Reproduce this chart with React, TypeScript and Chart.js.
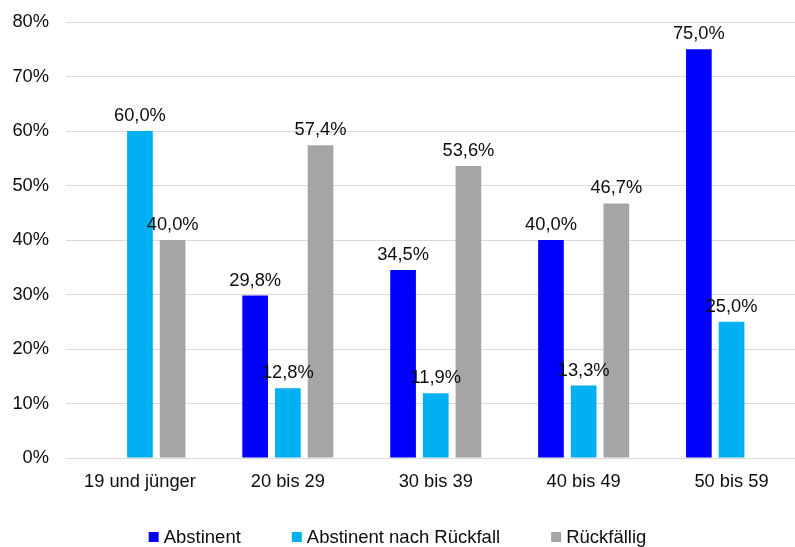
import { useEffect, useRef } from "react";
import { Chart, registerables } from "chart.js";

Chart.register(...registerables);

// Age groups along the x axis
const categories = ["19 und jünger", "20 bis 29", "30 bis 39", "40 bis 49", "50 bis 59"];

// Share of each outcome per age group, in percent (null = no bar)
const seriesNames = ["Abstinent", "Abstinent nach Rückfall", "Rückfällig"];
const abstinent = [null, 29.8, 34.5, 40.0, 75.0];
const abstinentNachRueckfall = [60.0, 12.8, 11.9, 13.3, 25.0];
const rueckfaellig = [40.0, 57.4, 53.6, 46.7, null];
const seriesColors = ["#0000FF", "#00B0F0", "#A5A5A5"];

// Value axis
const yMin = 0;
const yMax = 80;
const yStep = 10;

const FONT_FAMILY = "'Liberation Sans', Arial, Helvetica, sans-serif";
const FONT_SIZE = 18.3;
const LEGEND_FONT_SIZE = 18.5;
const TEXT_COLOR = "#0d0d0d";
const GRID_COLOR = "#d9d9d9";

const formatPercent = (v: number) => v.toFixed(1).replace(".", ",") + "%";

// Writes each bar's value above it
const valueLabels = {
  id: "valueLabels",
  afterDatasetsDraw(chart: any) {
    const ctx = chart.ctx;
    ctx.save();
    ctx.font = `${FONT_SIZE}px ${FONT_FAMILY}`;
    ctx.fillStyle = TEXT_COLOR;
    ctx.textAlign = "center";
    ctx.textBaseline = "alphabetic";
    chart.data.datasets.forEach((ds: any, di: number) => {
      const meta = chart.getDatasetMeta(di);
      meta.data.forEach((bar: any, i: number) => {
        const v = ds.data[i].y;
        if (v === null || v === undefined) return;
        ctx.fillText(formatPercent(v), bar.x, bar.y - 10);
      });
    });
    ctx.restore();
  },
};

// Compact legend row centred under the plot: small square, then the series name
const bottomLegend = {
  id: "bottomLegend",
  afterDraw(chart: any) {
    const ctx = chart.ctx;
    const box = 10;
    const textGap = 5;
    const itemGap = 51;
    const baseline = 543;
    ctx.save();
    ctx.font = `${LEGEND_FONT_SIZE}px ${FONT_FAMILY}`;
    ctx.textBaseline = "alphabetic";
    ctx.textAlign = "left";
    const items = chart.data.datasets.map((ds: any) => ({
      text: ds.label as string,
      color: ds.backgroundColor as string,
      width: ctx.measureText(ds.label).width as number,
    }));
    const total =
      items.reduce((s: number, it: any) => s + box + textGap + it.width, 0) + itemGap * (items.length - 1);
    let x = chart.width / 2 - total / 2;
    items.forEach((it: any) => {
      ctx.fillStyle = it.color;
      ctx.fillRect(x, baseline - 11, box, box);
      ctx.fillStyle = TEXT_COLOR;
      ctx.fillText(it.text, x + box + textGap, baseline);
      x += box + textGap + it.width + itemGap;
    });
    ctx.restore();
  },
};

export default function App() {
  const canvasRef = useRef<HTMLCanvasElement | null>(null);

  useEffect(() => {
    const canvas = canvasRef.current;
    if (!canvas) return;

    const seriesValues = [abstinent, abstinentNachRueckfall, rueckfaellig];
    const datasets = seriesNames.map((name, s) => ({
      label: name,
      data: categories.map((_, i) => ({ x: i, y: seriesValues[s][i] })),
      backgroundColor: seriesColors[s],
      borderWidth: 0,
      categoryPercentage: 0.663,
      barPercentage: 0.786,
    }));

    const chart = new Chart(canvas, {
      type: "bar",
      data: { datasets },
      plugins: [valueLabels, bottomLegend],
      options: {
        animation: false,
        responsive: false,
        devicePixelRatio: 1,
        layout: { padding: { top: 22, left: 0, right: 0, bottom: 49 } },
        font: { family: FONT_FAMILY, size: FONT_SIZE },
        color: TEXT_COLOR,
        plugins: {
          tooltip: { enabled: false },
          legend: { display: false },
        },
        scales: {
          x: {
            type: "linear",
            offset: false,
            min: -0.5,
            max: 4.429,
            grid: { display: false, drawTicks: false, offset: false },
            border: { display: true, color: GRID_COLOR, width: 1 },
            ticks: {
              stepSize: 1,
              padding: 13,
              maxRotation: 0,
              autoSkip: false,
              color: TEXT_COLOR,
              font: { family: FONT_FAMILY, size: FONT_SIZE },
              callback: (value: any) => categories[value as number] ?? "",
            },
            afterBuildTicks: (scale: any) => {
              scale.ticks = categories.map((_, i) => ({ value: i }));
            },
            afterFit: (scale: any) => {
              scale.height = 40;
            },
          },
          y: {
            min: yMin,
            max: yMax,
            grid: {
              color: GRID_COLOR,
              lineWidth: 1,
              drawTicks: true,
              tickLength: 17,
              tickColor: "rgba(0,0,0,0)",
            },
            border: { display: false },
            ticks: {
              stepSize: yStep,
              padding: 0,
              color: TEXT_COLOR,
              font: { family: FONT_FAMILY, size: FONT_SIZE },
              callback: (value: any) => `${value}%`,
            },
            afterFit: (scale: any) => {
              scale.width = 66;
            },
          },
        },
      },
    });

    return () => chart.destroy();
  }, []);

  return (
    <div style={{ position: "fixed", left: 0, top: 0, width: 795, height: 547, background: "#fff" }}>
      <canvas ref={canvasRef} width={795} height={547} style={{ display: "block" }} />
    </div>
  );
}
